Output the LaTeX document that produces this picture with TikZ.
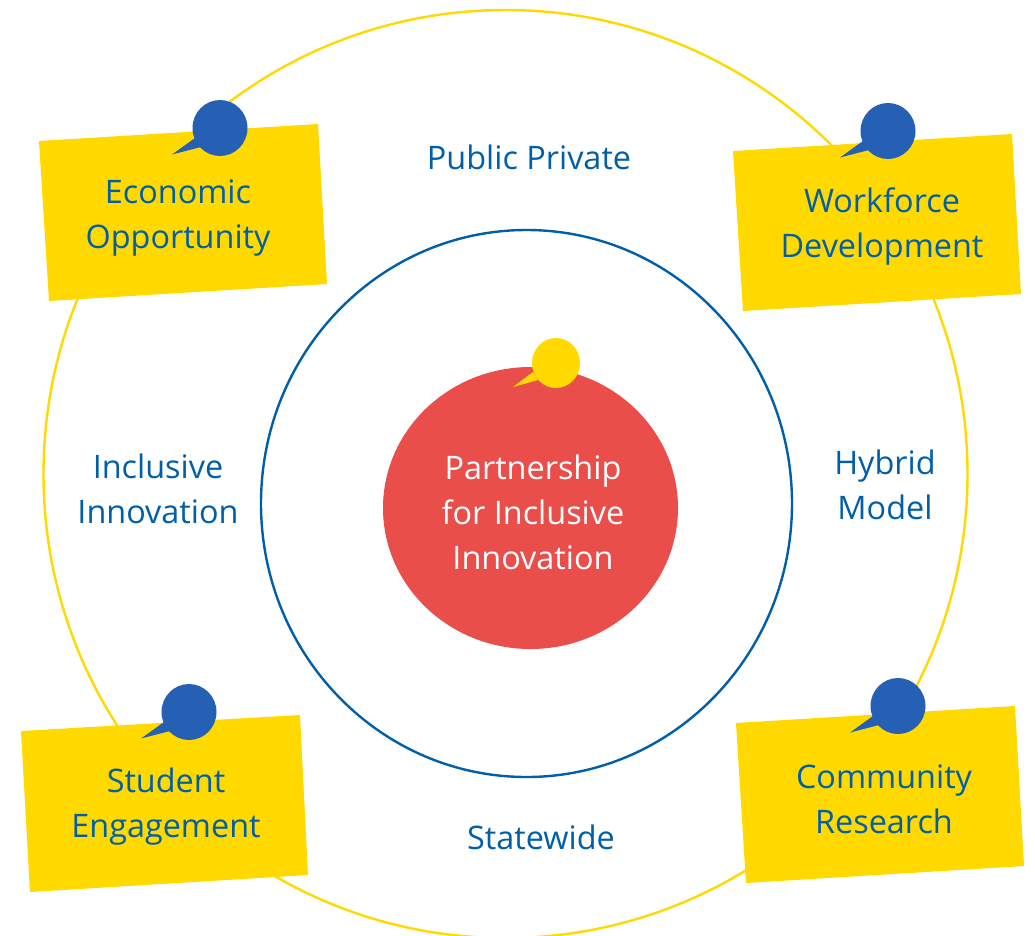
\documentclass[tikz,border=0pt]{standalone}
\usepackage{fontspec}
\setmainfont{Open Sans}
\definecolor{ringyellow}{HTML}{FFD900}
\definecolor{ringblue}{HTML}{005FA8}
\definecolor{pinblue}{HTML}{2560B4}
\definecolor{redfill}{HTML}{E94E4A}
\tikzset{
  lbl/.style={align=center,text=ringblue,font=\fontsize{32.4}{45}\selectfont,inner sep=0pt},
  note/.style={fill=ringyellow,draw=none},
}
\newcommand{\pin}[3]{% cx, cy, colour
  \begin{scope}[shift={(#1,#2)}]
    \fill[#3] (-48,26.5) -- (-25,10) -- (-19,19) -- cycle;
    \fill[#3] (0,0) ellipse[x radius=27.5,y radius=28];
  \end{scope}}
\begin{document}
\begin{tikzpicture}[x=1pt,y=-1pt]
\useasboundingbox (0,0) rectangle (1035,935);
\draw[ringyellow,line width=2.4pt] (505.5,474) ellipse[x radius=462,y radius=464];
\draw[ringblue,line width=2.4pt] (526.5,503.5) ellipse[x radius=265.5,y radius=273.5];
\fill[redfill] (530.5,508) ellipse[x radius=147.5,y radius=141];
\fill[note] (39,141) -- (318,124) -- (327,284) -- (49,301) -- cycle;
\fill[note] (733,151) -- (1012,134) -- (1021,294) -- (743,311) -- cycle;
\fill[note] (21,731) -- (300,715) -- (308,875) -- (30,892) -- cycle;
\fill[note] (736,723) -- (1015,706) -- (1024,866) -- (746,883) -- cycle;
\pin{220}{128}{pinblue}
\pin{888}{131}{pinblue}
\pin{189}{712}{pinblue}
\pin{898}{706}{pinblue}
\begin{scope}[shift={(556,363)}]
  \fill[ringyellow] (-43,24) -- (-23,9) -- (-18,17) -- cycle;
  \fill[ringyellow] (0,0) ellipse[x radius=24,y radius=25];
\end{scope}
\node[lbl] (econ) at (178,218) {Economic\\Opportunity};
\node[lbl] (work) at (882,226) {Workforce\\Development};
\node[lbl] (stud) at (166,807) {Student\\Engagement};
\node[lbl] (comm) at (884,799) {Community\\Research};
\node[lbl] (pub) at (529,157) {Public Private};
\node[lbl] (incl) at (158,489) {Inclusive\\Innovation};
\node[lbl] (hyb) at (885,484.5) {Hybrid\\Model};
\node[lbl] (state) at (541,837) {Statewide};
\node[lbl,text=white] (part) at (533,512) {Partnership\\for Inclusive\\Innovation};
\end{tikzpicture}
\end{document}
